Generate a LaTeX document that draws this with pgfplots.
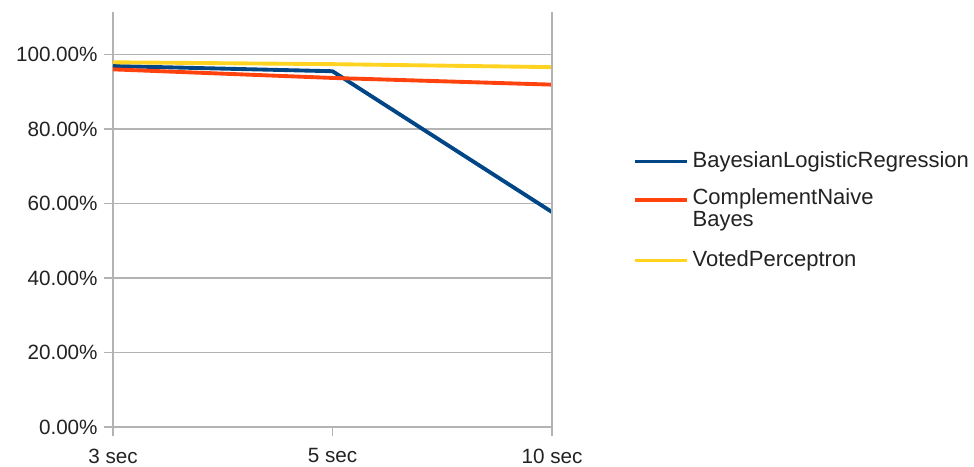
\documentclass[border=0pt]{standalone}
\usepackage{fontspec}
\setmainfont{Liberation Sans}
\usepackage{pgfplots}
\pgfplotsset{compat=1.18}

\definecolor{serblue}{HTML}{004586}
\definecolor{serorange}{HTML}{FF420E}
\definecolor{seryellow}{HTML}{FFD320}
\definecolor{gridgray}{HTML}{B3B3B3}
\definecolor{labelgray}{HTML}{222222}

% legend line placed level with the first line of a two-line entry
\pgfplotsset{raised legend/.style={
  legend image code/.code={\draw[##1, line width=2.5pt] (0pt,8.25pt) -- (39pt,8.25pt);}}}

\begin{document}
\begin{tikzpicture}[x=1pt,y=1pt]
% fixed canvas around the plot area
\path[use as bounding box] (-84.75,-30) rectangle (645.75,320.25);
\begin{axis}[
  at={(0,0)}, anchor=south west,
  scale only axis, width=329.25pt, height=311.25pt,
  xmin=0, xmax=2, ymin=0, ymax=111.4,
  axis x line*=bottom, axis y line*=left,
  axis line style={gridgray, line width=0.9pt},
  xtick={0,1,2}, xticklabels={3 sec,5 sec,10 sec},
  ytick={0,20,...,100},
  yticklabel={\pgfmathprintnumber[fixed,fixed zerofill,precision=2]{\tick}\%},
  /pgf/number format/assume math mode=true,
  tick align=outside, major tick length=7pt,
  tick style={gridgray, line width=0.9pt},
  ymajorgrids, major grid style={gridgray, line width=0.9pt},
  ticklabel style={font=\fontsize{15.5}{18}\selectfont, text=labelgray},
  yticklabel style={xshift=-1pt},
  xticklabel style={inner ysep=0pt, text depth=0pt, yshift=-9pt},
  legend cell align=left,
  legend style={draw=none, fill=none, inner sep=0pt,
    at={(axis description cs:1.1845,0.675)}, anchor=north west,
    font=\fontsize{16.5}{17}\selectfont, text=labelgray,
    row sep=6.5pt,
    nodes={inner sep=3pt, text depth=}},
  legend image code/.code={\draw[#1, line width=2.5pt] (0pt,0pt) -- (39pt,0pt);},
  every axis plot/.append style={line width=2.9pt, line join=round},
  clip=false,
]
\addplot[serblue] coordinates {(0,96.9) (1,95.5) (2,57.7)};
\addlegendentry{BayesianLogisticRegression}
\addplot[serorange, raised legend]
  coordinates {(0,96.0) (1,93.7) (2,91.9)};
\addlegendentry{\begin{tabular}{@{}l@{}}ComplementNaive\\Bayes\end{tabular}}
\addplot[seryellow] coordinates {(0,97.9) (1,97.4) (2,96.6)};
\addlegendentry{VotedPerceptron}
% right-hand frame line at the last category
\draw[gridgray, line width=0.9pt] (rel axis cs:1,0) -- (rel axis cs:1,1);
\end{axis}
\end{tikzpicture}
\end{document}
